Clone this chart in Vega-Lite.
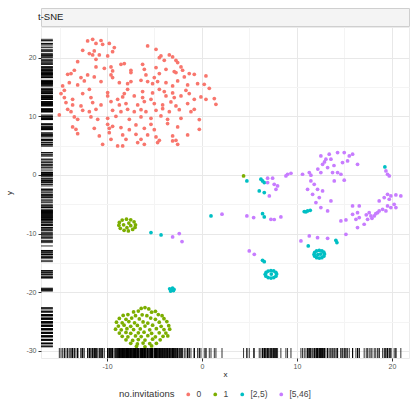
{
"$schema": "https://vega.github.io/schema/vega-lite/v6.json",
"padding": {"left": 4, "top": 7, "right": 4, "bottom": 4},
"background": "white",
"spacing": 1,
"bounds": "flush",
"config": {"font": "Liberation Sans", "view": {"stroke": null}},
"datasets": {"pts": [
{"x":-12.04,"y":22.83,"g":"0"},{"x":-11.51,"y":23.1,"g":"0"},{"x":-11.16,"y":22.4,"g":"0"},{"x":-10.63,"y":22.9,"g":"0"},{"x":-10.46,"y":22.25,"g":"0"},{"x":-9.76,"y":22.4,"g":"0"},{"x":-9.23,"y":21.7,"g":"0"},{"x":-5.72,"y":21.97,"g":"0"},
{"x":-12.56,"y":21.23,"g":"0"},{"x":-11.86,"y":20.67,"g":"0"},{"x":-11.34,"y":21.12,"g":"0"},{"x":-10.81,"y":20.44,"g":"0"},{"x":-9.41,"y":21.0,"g":"0"},{"x":-4.84,"y":21.4,"g":"0"},{"x":-4.32,"y":20.27,"g":"0"},{"x":-3.44,"y":20.44,"g":"0"},{"x":-11.51,"y":20.44,"g":"0"},
{"x":-13.09,"y":19.3,"g":"0"},{"x":-11.16,"y":19.7,"g":"0"},{"x":-9.93,"y":20.27,"g":"0"},{"x":-4.49,"y":19.98,"g":"0"},{"x":-3.97,"y":19.53,"g":"0"},{"x":-3.09,"y":20.1,"g":"0"},{"x":-2.74,"y":19.53,"g":"0"},{"x":-2.56,"y":19.13,"g":"0"},
{"x":-13.44,"y":17.83,"g":"0"},{"x":-11.16,"y":18.4,"g":"0"},{"x":-10.28,"y":18.17,"g":"0"},{"x":-9.41,"y":17.72,"g":"0"},{"x":-8.53,"y":18.85,"g":"0"},{"x":-8.18,"y":18.96,"g":"0"},{"x":-6.25,"y":18.85,"g":"0"},{"x":-6.07,"y":18.0,"g":"0"},{"x":-4.84,"y":18.28,"g":"0"},{"x":-3.79,"y":18.0,"g":"0"},{"x":-2.92,"y":17.6,"g":"0"},{"x":-2.21,"y":18.4,"g":"0"},{"x":-2.04,"y":17.83,"g":"0"},{"x":-9.58,"y":18.4,"g":"0"},{"x":-7.48,"y":17.83,"g":"0"},
{"x":-14.14,"y":17.14,"g":"0"},{"x":-13.79,"y":17.26,"g":"0"},{"x":-12.74,"y":16.58,"g":"0"},{"x":-12.04,"y":17.03,"g":"0"},{"x":-11.34,"y":16.7,"g":"0"},{"x":-9.58,"y":17.03,"g":"0"},{"x":-9.41,"y":16.58,"g":"0"},{"x":-7.48,"y":17.43,"g":"0"},{"x":-5.9,"y":17.03,"g":"0"},{"x":-5.02,"y":16.58,"g":"0"},{"x":-4.49,"y":17.26,"g":"0"},{"x":-2.74,"y":17.43,"g":"0"},{"x":-1.86,"y":16.7,"g":"0"},{"x":-1.34,"y":17.26,"g":"0"},{"x":-0.81,"y":17.14,"g":"0"},{"x":0.42,"y":16.86,"g":"0"},
{"x":-14.67,"y":15.16,"g":"0"},{"x":-13.97,"y":15.72,"g":"0"},{"x":-13.09,"y":15.33,"g":"0"},{"x":-12.39,"y":16.01,"g":"0"},{"x":-10.63,"y":15.9,"g":"0"},{"x":-8.7,"y":15.72,"g":"0"},{"x":-7.83,"y":15.55,"g":"0"},{"x":-7.48,"y":15.9,"g":"0"},{"x":-6.42,"y":16.12,"g":"0"},{"x":-5.72,"y":15.9,"g":"0"},{"x":-5.2,"y":15.55,"g":"0"},{"x":-4.67,"y":15.9,"g":"0"},{"x":-3.79,"y":15.72,"g":"0"},{"x":-3.09,"y":15.16,"g":"0"},{"x":-2.56,"y":16.01,"g":"0"},{"x":-1.51,"y":15.33,"g":"0"},{"x":-0.46,"y":15.55,"g":"0"},{"x":0.24,"y":15.44,"g":"0"},
{"x":-14.49,"y":14.42,"g":"0"},{"x":-14.84,"y":13.85,"g":"0"},{"x":-12.56,"y":13.85,"g":"0"},{"x":-11.86,"y":14.59,"g":"0"},{"x":-9.93,"y":14.02,"g":"0"},{"x":-8.18,"y":13.85,"g":"0"},{"x":-7.83,"y":14.59,"g":"0"},{"x":-6.25,"y":14.19,"g":"0"},{"x":-5.2,"y":13.96,"g":"0"},{"x":-4.49,"y":14.59,"g":"0"},{"x":-3.97,"y":14.19,"g":"0"},{"x":-3.09,"y":13.96,"g":"0"},{"x":-1.69,"y":14.42,"g":"0"},{"x":-1.34,"y":13.85,"g":"0"},{"x":0.77,"y":14.76,"g":"0"},
{"x":-14.49,"y":13.17,"g":"0"},{"x":-13.62,"y":12.88,"g":"0"},{"x":-11.69,"y":13.17,"g":"0"},{"x":-8.88,"y":12.88,"g":"0"},{"x":-8.35,"y":13.28,"g":"0"},{"x":-7.13,"y":13.45,"g":"0"},{"x":-6.25,"y":13.17,"g":"0"},{"x":-5.37,"y":12.88,"g":"0"},{"x":-3.79,"y":13.45,"g":"0"},{"x":-2.92,"y":13.17,"g":"0"},{"x":-2.21,"y":13.45,"g":"0"},{"x":-0.81,"y":12.88,"g":"0"},{"x":-0.11,"y":13.28,"g":"0"},{"x":0.42,"y":12.88,"g":"0"},{"x":1.3,"y":13.0,"g":"0"},{"x":-9.93,"y":13.45,"g":"0"},
{"x":-14.32,"y":12.32,"g":"0"},{"x":-13.62,"y":11.92,"g":"0"},{"x":-12.74,"y":11.75,"g":"0"},{"x":-11.51,"y":12.32,"g":"0"},{"x":-10.63,"y":11.92,"g":"0"},{"x":-9.58,"y":12.49,"g":"0"},{"x":-8.7,"y":11.92,"g":"0"},{"x":-8.0,"y":12.15,"g":"0"},{"x":-6.77,"y":11.92,"g":"0"},{"x":-6.07,"y":12.49,"g":"0"},{"x":-5.02,"y":12.15,"g":"0"},{"x":-4.14,"y":11.92,"g":"0"},{"x":-3.27,"y":12.43,"g":"0"},{"x":-2.74,"y":11.75,"g":"0"},{"x":-1.51,"y":12.15,"g":"0"},{"x":1.47,"y":12.03,"g":"0"},
{"x":-14.14,"y":11.18,"g":"0"},{"x":-13.79,"y":10.78,"g":"0"},{"x":-12.56,"y":11.01,"g":"0"},{"x":-11.86,"y":10.78,"g":"0"},{"x":-11.16,"y":11.18,"g":"0"},{"x":-9.41,"y":11.01,"g":"0"},{"x":-8.53,"y":10.78,"g":"0"},{"x":-7.83,"y":11.18,"g":"0"},{"x":-7.13,"y":10.78,"g":"0"},{"x":-6.42,"y":11.12,"g":"0"},{"x":-5.9,"y":10.78,"g":"0"},{"x":-4.84,"y":11.01,"g":"0"},{"x":-4.14,"y":11.29,"g":"0"},{"x":-3.44,"y":10.78,"g":"0"},{"x":-2.39,"y":11.12,"g":"0"},{"x":-1.16,"y":10.78,"g":"0"},{"x":-0.81,"y":11.18,"g":"0"},
{"x":-15.02,"y":10.21,"g":"0"},{"x":-13.44,"y":9.87,"g":"0"},{"x":-13.09,"y":9.47,"g":"0"},{"x":-11.69,"y":9.87,"g":"0"},{"x":-10.98,"y":9.47,"g":"0"},{"x":-9.93,"y":9.64,"g":"0"},{"x":-9.06,"y":9.98,"g":"0"},{"x":-7.65,"y":9.47,"g":"0"},{"x":-6.42,"y":9.87,"g":"0"},{"x":-5.37,"y":9.64,"g":"0"},{"x":-4.32,"y":10.04,"g":"0"},{"x":-3.62,"y":9.47,"g":"0"},{"x":-2.21,"y":9.64,"g":"0"},{"x":-0.28,"y":9.42,"g":"0"},
{"x":-13.62,"y":8.17,"g":"0"},{"x":-13.27,"y":7.77,"g":"0"},{"x":-11.34,"y":7.94,"g":"0"},{"x":-9.93,"y":8.62,"g":"0"},{"x":-9.76,"y":7.94,"g":"0"},{"x":-9.41,"y":8.28,"g":"0"},{"x":-8.53,"y":8.06,"g":"0"},{"x":-7.65,"y":7.71,"g":"0"},{"x":-6.95,"y":8.51,"g":"0"},{"x":-6.07,"y":7.94,"g":"0"},{"x":-5.37,"y":8.62,"g":"0"},{"x":-5.02,"y":7.71,"g":"0"},{"x":-2.56,"y":8.17,"g":"0"},{"x":-0.28,"y":7.77,"g":"0"},{"x":-3.62,"y":8.74,"g":"0"},
{"x":-13.09,"y":7.03,"g":"0"},{"x":-10.81,"y":6.63,"g":"0"},{"x":-9.76,"y":7.2,"g":"0"},{"x":-9.58,"y":6.06,"g":"0"},{"x":-8.35,"y":6.8,"g":"0"},{"x":-8.0,"y":6.06,"g":"0"},{"x":-6.95,"y":6.92,"g":"0"},{"x":-6.42,"y":6.06,"g":"0"},{"x":-5.72,"y":6.8,"g":"0"},{"x":-4.84,"y":6.46,"g":"0"},{"x":-4.49,"y":5.9,"g":"0"},{"x":-3.09,"y":6.63,"g":"0"},{"x":-2.74,"y":5.9,"g":"0"},{"x":-1.51,"y":6.8,"g":"0"},
{"x":-10.46,"y":5.21,"g":"0"},{"x":-8.88,"y":4.93,"g":"0"},{"x":-8.35,"y":4.93,"g":"0"},{"x":-6.77,"y":5.5,"g":"0"},{"x":-6.07,"y":5.21,"g":"0"},{"x":-4.67,"y":5.5,"g":"0"},{"x":-3.09,"y":5.79,"g":"0"},{"x":-2.56,"y":5.21,"g":"0"},
{"x":4.38,"y":-0.18,"g":"1"},
{"x":-7.0,"y":-8.5,"g":"1"},{"x":-7.15,"y":-8.0,"g":"1"},{"x":-7.5,"y":-7.65,"g":"1"},{"x":-7.95,"y":-7.55,"g":"1"},{"x":-8.4,"y":-7.7,"g":"1"},{"x":-8.7,"y":-8.1,"g":"1"},{"x":-8.75,"y":-8.6,"g":"1"},{"x":-8.6,"y":-9.1,"g":"1"},{"x":-8.2,"y":-9.45,"g":"1"},{"x":-7.75,"y":-9.55,"g":"1"},{"x":-7.3,"y":-9.3,"g":"1"},{"x":-7.05,"y":-8.95,"g":"1"},{"x":-7.7,"y":-8.2,"g":"1"},{"x":-7.5,"y":-8.65,"g":"1"},{"x":-7.9,"y":-9.0,"g":"1"},{"x":-8.25,"y":-8.5,"g":"1"},
{"x":-6.4,"y":-22.75,"g":"1"},{"x":-6.0,"y":-22.6,"g":"1"},{"x":-5.6,"y":-22.85,"g":"1"},
{"x":-7.2,"y":-23.35,"g":"1"},{"x":-6.7,"y":-23.2,"g":"1"},{"x":-5.3,"y":-23.4,"g":"1"},{"x":-4.9,"y":-23.25,"g":"1"},
{"x":-8.3,"y":-23.95,"g":"1"},{"x":-7.8,"y":-23.8,"g":"1"},{"x":-7.0,"y":-24.0,"g":"1"},{"x":-6.3,"y":-23.85,"g":"1"},{"x":-5.8,"y":-24.0,"g":"1"},{"x":-4.6,"y":-23.8,"g":"1"},{"x":-4.2,"y":-24.0,"g":"1"},
{"x":-8.7,"y":-24.45,"g":"1"},{"x":-8.0,"y":-24.6,"g":"1"},{"x":-7.4,"y":-24.4,"g":"1"},{"x":-6.6,"y":-24.55,"g":"1"},{"x":-5.4,"y":-24.4,"g":"1"},{"x":-4.9,"y":-24.6,"g":"1"},{"x":-4.0,"y":-24.5,"g":"1"},
{"x":-9.0,"y":-25.1,"g":"1"},{"x":-8.4,"y":-25.2,"g":"1"},{"x":-7.7,"y":-25.0,"g":"1"},{"x":-7.1,"y":-25.2,"g":"1"},{"x":-6.2,"y":-25.05,"g":"1"},{"x":-5.7,"y":-25.25,"g":"1"},{"x":-4.5,"y":-25.1,"g":"1"},{"x":-3.7,"y":-25.0,"g":"1"},
{"x":-8.8,"y":-25.75,"g":"1"},{"x":-8.2,"y":-25.6,"g":"1"},{"x":-7.5,"y":-25.8,"g":"1"},{"x":-6.8,"y":-25.65,"g":"1"},{"x":-6.0,"y":-25.75,"g":"1"},{"x":-5.2,"y":-25.6,"g":"1"},{"x":-4.3,"y":-25.8,"g":"1"},{"x":-3.5,"y":-25.7,"g":"1"},
{"x":-9.1,"y":-26.3,"g":"1"},{"x":-8.5,"y":-26.4,"g":"1"},{"x":-7.9,"y":-26.2,"g":"1"},{"x":-7.2,"y":-26.35,"g":"1"},{"x":-6.5,"y":-26.25,"g":"1"},{"x":-5.5,"y":-26.4,"g":"1"},{"x":-4.8,"y":-26.2,"g":"1"},{"x":-4.0,"y":-26.35,"g":"1"},{"x":-3.4,"y":-26.3,"g":"1"},
{"x":-8.7,"y":-26.95,"g":"1"},{"x":-8.0,"y":-26.85,"g":"1"},{"x":-7.5,"y":-27.0,"g":"1"},{"x":-6.7,"y":-26.9,"g":"1"},{"x":-6.1,"y":-26.8,"g":"1"},{"x":-5.3,"y":-27.0,"g":"1"},{"x":-4.5,"y":-26.9,"g":"1"},{"x":-3.8,"y":-26.95,"g":"1"},
{"x":-8.4,"y":-27.5,"g":"1"},{"x":-7.8,"y":-27.6,"g":"1"},{"x":-7.0,"y":-27.45,"g":"1"},{"x":-6.4,"y":-27.55,"g":"1"},{"x":-5.7,"y":-27.4,"g":"1"},{"x":-4.9,"y":-27.6,"g":"1"},{"x":-4.1,"y":-27.5,"g":"1"},{"x":-3.6,"y":-27.45,"g":"1"},
{"x":-8.0,"y":-28.1,"g":"1"},{"x":-7.3,"y":-28.2,"g":"1"},{"x":-6.7,"y":-28.05,"g":"1"},{"x":-6.0,"y":-28.15,"g":"1"},{"x":-5.2,"y":-28.0,"g":"1"},{"x":-4.4,"y":-28.1,"g":"1"},
{"x":-7.5,"y":-28.7,"g":"1"},{"x":-6.8,"y":-28.8,"g":"1"},{"x":-6.2,"y":-28.65,"g":"1"},{"x":-5.5,"y":-28.75,"g":"1"},{"x":-4.8,"y":-28.7,"g":"1"},
{"x":-6.9,"y":-29.2,"g":"1"},{"x":-6.0,"y":-29.3,"g":"1"},{"x":-5.3,"y":-29.15,"g":"1"},
{"x":4.73,"y":-1.03,"g":"[2,5)"},{"x":6.21,"y":-0.74,"g":"[2,5)"},{"x":6.38,"y":-1.03,"g":"[2,5)"},{"x":6.56,"y":-1.31,"g":"[2,5)"},{"x":6.03,"y":-2.73,"g":"[2,5)"},{"x":6.56,"y":-3.02,"g":"[2,5)"},
{"x":10.77,"y":-6.25,"g":"[2,5)"},{"x":11.12,"y":-6.14,"g":"[2,5)"},{"x":11.4,"y":-6.03,"g":"[2,5)"},{"x":10.95,"y":-6.3,"g":"[2,5)"},
{"x":6.38,"y":-6.6,"g":"[2,5)"},{"x":6.56,"y":-7.16,"g":"[2,5)"},{"x":19.26,"y":1.36,"g":"[2,5)"},
{"x":14.1,"y":-11.14,"g":"[2,5)"},{"x":14.21,"y":-11.54,"g":"[2,5)"},{"x":11.19,"y":-12.11,"g":"[2,5)"},
{"x":6.38,"y":-14.55,"g":"[2,5)"},{"x":6.56,"y":-14.78,"g":"[2,5)"},
{"x":12.9,"y":-13.5,"g":"[2,5)"},{"x":12.83,"y":-13.18,"g":"[2,5)"},{"x":12.63,"y":-12.95,"g":"[2,5)"},{"x":12.35,"y":-12.88,"g":"[2,5)"},{"x":12.07,"y":-12.95,"g":"[2,5)"},{"x":11.87,"y":-13.2,"g":"[2,5)"},{"x":11.8,"y":-13.55,"g":"[2,5)"},{"x":11.88,"y":-13.86,"g":"[2,5)"},{"x":12.08,"y":-14.1,"g":"[2,5)"},{"x":12.36,"y":-14.18,"g":"[2,5)"},{"x":12.62,"y":-14.1,"g":"[2,5)"},{"x":12.83,"y":-13.86,"g":"[2,5)"},{"x":12.5,"y":-13.5,"g":"[2,5)"},{"x":12.2,"y":-13.6,"g":"[2,5)"},
{"x":7.86,"y":-16.9,"g":"[2,5)"},{"x":7.78,"y":-16.6,"g":"[2,5)"},{"x":7.55,"y":-16.37,"g":"[2,5)"},{"x":7.26,"y":-16.3,"g":"[2,5)"},{"x":6.97,"y":-16.38,"g":"[2,5)"},{"x":6.75,"y":-16.62,"g":"[2,5)"},{"x":6.66,"y":-16.95,"g":"[2,5)"},{"x":6.74,"y":-17.25,"g":"[2,5)"},{"x":6.97,"y":-17.5,"g":"[2,5)"},{"x":7.27,"y":-17.58,"g":"[2,5)"},{"x":7.56,"y":-17.5,"g":"[2,5)"},{"x":7.78,"y":-17.26,"g":"[2,5)"},{"x":7.3,"y":-16.9,"g":"[2,5)"},
{"x":-5.37,"y":-9.83,"g":"[2,5)"},{"x":-4.31,"y":-10.23,"g":"[2,5)"},{"x":0.95,"y":-6.99,"g":"[2,5)"},
{"x":-3.4,"y":-19.4,"g":"[2,5)"},{"x":-3.1,"y":-19.3,"g":"[2,5)"},{"x":-3.0,"y":-19.7,"g":"[2,5)"},{"x":-3.3,"y":-19.8,"g":"[2,5)"},{"x":-3.2,"y":-19.55,"g":"[2,5)"},{"x":-2.95,"y":-19.5,"g":"[2,5)"},
{"x":6.91,"y":-0.57,"g":"[5,46]"},{"x":7.44,"y":-0.57,"g":"[5,46]"},{"x":6.91,"y":-1.31,"g":"[5,46]"},{"x":7.61,"y":-1.6,"g":"[5,46]"},{"x":7.96,"y":-1.88,"g":"[5,46]"},{"x":7.79,"y":-2.45,"g":"[5,46]"},{"x":7.09,"y":-3.59,"g":"[5,46]"},
{"x":9.01,"y":0.11,"g":"[5,46]"},{"x":9.37,"y":0.28,"g":"[5,46]"},{"x":8.84,"y":-0.18,"g":"[5,46]"},
{"x":10.59,"y":0.11,"g":"[5,46]"},{"x":11.3,"y":0.39,"g":"[5,46]"},{"x":11.47,"y":-0.06,"g":"[5,46]"},
{"x":12.52,"y":3.23,"g":"[5,46]"},{"x":13.05,"y":2.67,"g":"[5,46]"},{"x":12.7,"y":1.81,"g":"[5,46]"},{"x":13.4,"y":3.52,"g":"[5,46]"},{"x":13.58,"y":2.67,"g":"[5,46]"},{"x":13.23,"y":1.24,"g":"[5,46]"},{"x":12.52,"y":0.39,"g":"[5,46]"},{"x":13.75,"y":0.39,"g":"[5,46]"},{"x":14.28,"y":3.8,"g":"[5,46]"},{"x":14.98,"y":3.8,"g":"[5,46]"},{"x":15.51,"y":3.23,"g":"[5,46]"},{"x":15.86,"y":3.52,"g":"[5,46]"},{"x":15.33,"y":2.38,"g":"[5,46]"},{"x":14.8,"y":2.1,"g":"[5,46]"},{"x":16.38,"y":1.81,"g":"[5,46]"},{"x":14.28,"y":0.39,"g":"[5,46]"},{"x":14.63,"y":0.11,"g":"[5,46]"},{"x":13.93,"y":-1.03,"g":"[5,46]"},{"x":14.98,"y":-0.91,"g":"[5,46]"},
{"x":12.9,"y":2.2,"g":"[5,46]"},{"x":13.9,"y":1.6,"g":"[5,46]"},{"x":12.2,"y":1.0,"g":"[5,46]"},
{"x":11.47,"y":-1.03,"g":"[5,46]"},{"x":11.82,"y":-1.6,"g":"[5,46]"},{"x":11.12,"y":-2.45,"g":"[5,46]"},{"x":12.17,"y":-2.45,"g":"[5,46]"},{"x":11.65,"y":-3.3,"g":"[5,46]"},{"x":12.7,"y":-2.73,"g":"[5,46]"},{"x":12.35,"y":-3.87,"g":"[5,46]"},{"x":12.0,"y":-4.72,"g":"[5,46]"},{"x":12.52,"y":-5.57,"g":"[5,46]"},{"x":13.58,"y":-4.44,"g":"[5,46]"},{"x":13.23,"y":-6.14,"g":"[5,46]"},
{"x":4.73,"y":-6.99,"g":"[5,46]"},{"x":5.44,"y":-7.28,"g":"[5,46]"},{"x":7.26,"y":-7.56,"g":"[5,46]"},{"x":7.61,"y":-7.6,"g":"[5,46]"},{"x":8.31,"y":-7.16,"g":"[5,46]"},
{"x":19.37,"y":0.68,"g":"[5,46]"},{"x":19.54,"y":0.11,"g":"[5,46]"},{"x":19.72,"y":-0.18,"g":"[5,46]"},
{"x":14.63,"y":-7.85,"g":"[5,46]"},{"x":15.16,"y":-7.68,"g":"[5,46]"},{"x":15.86,"y":-6.71,"g":"[5,46]"},{"x":16.38,"y":-6.43,"g":"[5,46]"},{"x":16.56,"y":-5.29,"g":"[5,46]"},{"x":15.86,"y":-5.29,"g":"[5,46]"},{"x":16.56,"y":-7.28,"g":"[5,46]"},{"x":16.21,"y":-7.56,"g":"[5,46]"},{"x":16.38,"y":-8.98,"g":"[5,46]"},{"x":17.08,"y":-8.41,"g":"[5,46]"},{"x":17.44,"y":-7.56,"g":"[5,46]"},{"x":17.79,"y":-6.99,"g":"[5,46]"},{"x":17.61,"y":-6.43,"g":"[5,46]"},{"x":18.14,"y":-6.99,"g":"[5,46]"},{"x":18.49,"y":-6.43,"g":"[5,46]"},{"x":18.66,"y":-6.14,"g":"[5,46]"},{"x":19.02,"y":-5.86,"g":"[5,46]"},{"x":19.37,"y":-6.14,"g":"[5,46]"},{"x":19.54,"y":-5.29,"g":"[5,46]"},{"x":19.89,"y":-5.57,"g":"[5,46]"},{"x":20.24,"y":-5.01,"g":"[5,46]"},{"x":20.42,"y":-5.57,"g":"[5,46]"},{"x":18.66,"y":-4.44,"g":"[5,46]"},{"x":19.19,"y":-3.87,"g":"[5,46]"},{"x":19.54,"y":-3.3,"g":"[5,46]"},{"x":19.89,"y":-3.59,"g":"[5,46]"},{"x":20.42,"y":-3.41,"g":"[5,46]"},{"x":20.94,"y":-3.59,"g":"[5,46]"},{"x":19.72,"y":-4.15,"g":"[5,46]"},
{"x":17.9,"y":-7.4,"g":"[5,46]"},{"x":18.3,"y":-6.6,"g":"[5,46]"},{"x":17.3,"y":-6.8,"g":"[5,46]"},
{"x":10.42,"y":-11.26,"g":"[5,46]"},{"x":11.3,"y":-10.4,"g":"[5,46]"},{"x":12.17,"y":-10.69,"g":"[5,46]"},{"x":13.23,"y":-10.8,"g":"[5,46]"},{"x":15.16,"y":-10.12,"g":"[5,46]"},
{"x":4.98,"y":-12.96,"g":"[5,46]"},{"x":5.51,"y":-13.53,"g":"[5,46]"},
{"x":-3.09,"y":-10.57,"g":"[5,46]"},{"x":-2.39,"y":-10.0,"g":"[5,46]"},{"x":-2.1,"y":-11.36,"g":"[5,46]"},{"x":2.11,"y":-6.7,"g":"[5,46]"}
]},
"vconcat": [
{
"width": 368, "height": 18,
"view": {"fill": "#f4f4f4", "stroke": "#cfcfcf"},
"data": {"values": [{"label": "t-SNE"}]},
"mark": {"type": "text", "align": "left", "baseline": "middle", "fontSize": 9.5, "color": "#1a1a1a", "dx": -3},
"encoding": {
"text": {"field": "label", "type": "nominal"},
"x": {"datum": 0, "type": "quantitative", "scale": {"domain": [0, 1]}, "axis": null}
}
},
{
"width": 368, "height": 331,
"view": {"stroke": "#ebebeb"},
"data": {"name": "pts"},
"encoding": {
"x": {"field": "x", "type": "quantitative", "scale": {"domain": [-16.95, 21.8], "nice": false, "zero": false},
"axis": {"title": "x", "values": [-15,-10,-5,0,5,10,15,20], "labelExpr": "datum.value % 10 === 0 ? '' + datum.value : ''",
"tickColor": {"condition": {"test": "datum.value % 10 !== 0", "value": "transparent"}, "value": "#333333"},
"gridColor": {"condition": {"test": "datum.value % 10 !== 0", "value": "#f4f4f4"}, "value": "#e8e8e8"},
"domain": false, "tickSize": 3, "labelFontSize": 7, "labelColor": "#555555", "labelPadding": 1, "labelFlush": false,
"titleFontSize": 8, "titleFontWeight": "normal", "titleColor": "#222222", "titlePadding": 1}},
"y": {"field": "y", "type": "quantitative", "scale": {"domain": [-31.2, 25.2], "nice": false, "zero": false},
"axis": {"title": "y", "values": [-30,-25,-20,-15,-10,-5,0,5,10,15,20], "labelExpr": "datum.value % 10 === 0 ? '' + datum.value : ''",
"tickColor": {"condition": {"test": "datum.value % 10 !== 0", "value": "transparent"}, "value": "#333333"},
"gridColor": {"condition": {"test": "datum.value % 10 !== 0", "value": "#f4f4f4"}, "value": "#e8e8e8"},
"domain": false, "tickSize": 3, "labelFontSize": 7, "labelColor": "#555555", "labelPadding": 2, "labelFlush": false,
"minExtent": 24, "maxExtent": 24,
"titleFontSize": 8, "titleFontWeight": "normal", "titleColor": "#222222", "titlePadding": 4}}
},
"layer": [
{
"mark": {"type": "point", "filled": true, "size": 14, "opacity": 1},
"encoding": {
"color": {"field": "g", "type": "nominal",
"scale": {"domain": ["0", "1", "[2,5)", "[5,46]"], "range": ["#F8766D", "#7CAE00", "#00BFC4", "#C77CFF"]},
"legend": {"title": "no.invitations", "orient": "none", "legendX": 78, "legendY": 382, "direction": "horizontal", "titleOrient": "left",
"titleFontSize": 9.5, "titleFontWeight": "normal", "titleColor": "#333333", "titleBaseline": "middle",
"labelFontSize": 8.5, "labelColor": "#444444", "symbolSize": 14, "symbolType": "circle", "symbolStrokeWidth": 0,
"labelOffset": 4, "columnPadding": 9, "titlePadding": 9}}
}
},
{
"mark": {"type": "rule", "color": "#000000", "strokeWidth": 0.8},
"encoding": {
"y": {"datum": -31.2},
"y2": {"datum": -29.5}
}
},
{
"mark": {"type": "rule", "color": "#000000", "strokeWidth": 0.8},
"encoding": {
"x": {"datum": -16.95},
"x2": {"datum": -15.7}
}
}
]
}
]
}
